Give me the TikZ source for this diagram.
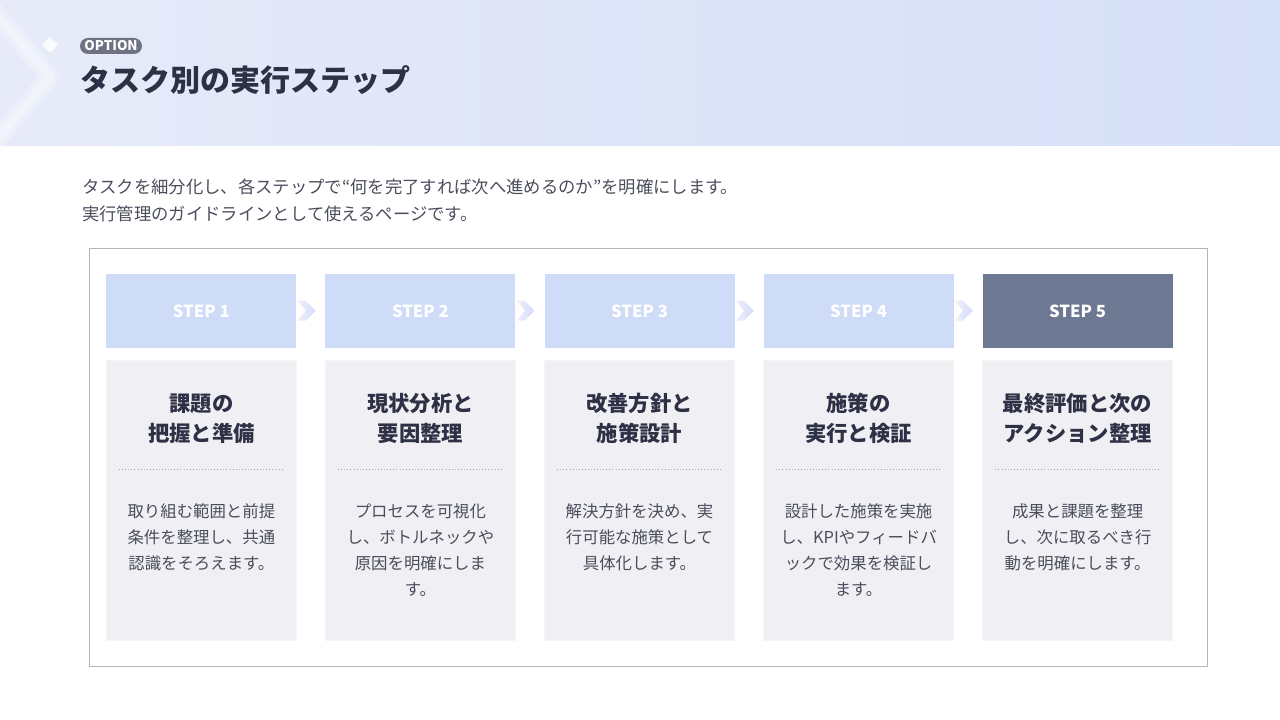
\documentclass[tikz,border=0pt]{standalone}
\usepackage{fontspec}
\setmainfont{Noto Sans CJK JP}
\usepackage{tikz}
\usetikzlibrary{matrix,positioning}

\definecolor{hdrL}{HTML}{E7EBF9}
\definecolor{hdrM}{HTML}{DFE4FA}
\definecolor{hdrR}{HTML}{D5DFF6}
\definecolor{inkblue}{HTML}{2E3145}
\definecolor{bodyink}{HTML}{4A4D5B}
\definecolor{stepblue}{HTML}{CFDCF7}
\definecolor{stepdark}{HTML}{6D7892}
\definecolor{cardgray}{HTML}{F0F0F4}
\definecolor{framegray}{HTML}{B5B5B9}
\definecolor{pillgray}{HTML}{6F7282}
\definecolor{chevL}{HTML}{EEF0FC}
\definecolor{chevR}{HTML}{D6DBF8}

\tikzset{
  stepbox/.style={fill=stepblue, text=white, minimum width=142.5pt, minimum height=55.5pt, inner sep=0pt, text depth=0pt, font=\bfseries\fontsize{12.5}{14}\selectfont},
  laststep/.style={fill=stepdark},
  cardbox/.style={fill=cardgray, draw=black!4, minimum width=142.5pt, minimum height=210pt, inner sep=0pt},
  cardtitle/.style={text=inkblue, align=center, inner sep=0pt, font=\bfseries\fontsize{16}{22.5}\selectfont},
  cardtext/.style={text=bodyink, align=center, inner sep=0pt, anchor=north, font=\fontsize{12.3}{19.7}\selectfont},
  dotline/.style={gray!70, line width=0.6pt, dash pattern=on 0.6pt off 1.7pt},
  pill/.style={fill=pillgray, text=white, rounded corners=6pt, minimum width=46.5pt, minimum height=12pt, inner sep=0pt, font=\bfseries\fontsize{10}{12}\selectfont}
}

\begin{document}
\begin{tikzpicture}[x=0.75pt, y=-0.75pt]
  \useasboundingbox (0,0) rectangle (1280,720);
  \shade[left color=hdrL, middle color=hdrM, right color=hdrR] (0,0) rectangle (1280,146);
  \begin{scope}
    \clip (0,0) rectangle (1280,146);
    \draw[white, opacity=0.25, line width=14pt] (-12,4) -- (50,77) -- (-12,150);
    \draw[white, opacity=0.3, line width=6pt] (-12,4) -- (50,77) -- (-12,150);
    \fill[white, opacity=0.8] (50,37) -- (58,45) -- (50,53) -- (42,45) -- cycle;
  \end{scope}

  \node[pill] (tag) at (111,46) {OPTION};
  \node[anchor=west, inner sep=0pt, text=inkblue, font=\bfseries\fontsize{22.5}{27}\selectfont] (title) at (80,80) {タスク別の実行ステップ};
  \node[anchor=north west, inner sep=0pt, align=left, text=bodyink, font=\fontsize{13}{20.25}\selectfont] (lead) at (82,178.5)
    {タスクを細分化し、各ステップで“何を完了すれば次へ進めるのか”を明確にします。\\実行管理のガイドラインとして使えるページです。};

  \draw[framegray, line width=0.75pt] (89,248) rectangle (1207,666);

  \matrix (m) [matrix of nodes, nodes in empty cells, column sep=21.4pt, row sep=9pt,
    row 1/.style={nodes=stepbox}, row 2/.style={nodes=cardbox}] at (639.5,457)
  {
    STEP 1 & STEP 2 & STEP 3 & STEP 4 & |[laststep]| STEP 5 \\
           &        &        &        &                     \\
  };

  \foreach \i in {1,...,4}
    \shade[left color=chevL, right color=chevR] ([shift={(1,-10)}]m-1-\i.east)
      -- ++(8,0) -- ++(10,10) -- ++(-10,10) -- ++(-8,0) -- ++(8,-10) -- cycle;

  \foreach \i/\ttl/\txt in {
    1/{課題の\\把握と準備}/{取り組む範囲と前提\\条件を整理し、共通\\認識をそろえます。},
    2/{現状分析と\\要因整理}/{プロセスを可視化\\し、ボトルネックや\\原因を明確にしま\\す。},
    3/{改善方針と\\施策設計}/{解決方針を決め、実\\行可能な施策として\\具体化します。},
    4/{施策の\\実行と検証}/{設計した施策を実施\\し、KPIやフィードバ\\ックで効果を検証し\\ます。},
    5/{最終評価と次の\\アクション整理}/{成果と課題を整理\\し、次に取るべき行\\動を明確にします。}}
  {
    \node[cardtitle] (ttl\i) at ([yshift=-44pt]m-2-\i.north) {\ttl};
    \draw[dotline] ([shift={(13,110)}]m-2-\i.north west) -- ([shift={(-13,110)}]m-2-\i.north east);
    \node[cardtext] (txt\i) at ([yshift=-107.5pt]m-2-\i.north) {\txt};
  }
\end{tikzpicture}
\end{document}
